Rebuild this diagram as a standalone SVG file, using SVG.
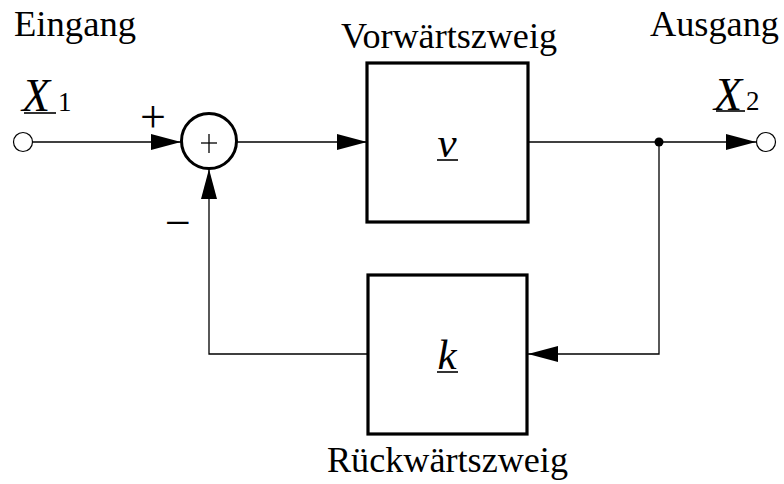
<svg xmlns="http://www.w3.org/2000/svg" width="784" height="484" viewBox="0 0 784 484">
<style>
.t{font-family:"Liberation Serif",serif;font-size:35px;fill:#000}
.p{font-family:"Liberation Serif",serif;font-size:46px;fill:#000}
.m{font-family:"Liberation Serif",serif;font-style:italic;font-size:43px;fill:#000}
.x{font-family:"Liberation Serif",serif;font-style:italic;font-size:46px;fill:#000}
.s{font-family:"Liberation Serif",serif;font-size:27px;fill:#000}
.w{fill:none;stroke:#000;stroke-width:1.3}
.box{fill:#fff;stroke:#000;stroke-width:3.2}
.u{stroke:#000;stroke-width:1.6}
</style>
<defs>
<marker id="ah" viewBox="0 0 30 16" refX="30" refY="8" markerWidth="30" markerHeight="16" markerUnits="userSpaceOnUse" orient="auto">
<path d="M0,0 L30,8 L0,16 Z" fill="#000"/>
</marker>
</defs>
<g id="connectors">
<line class="w" x1="33" y1="142" x2="181" y2="142" marker-end="url(#ah)"/>
<line class="w" x1="237" y1="142" x2="367" y2="142" marker-end="url(#ah)"/>
<line class="w" x1="528" y1="142" x2="756" y2="142" marker-end="url(#ah)"/>
<polyline class="w" points="659,142 659,354 528,354" marker-end="url(#ah)"/>
<polyline class="w" points="368,354 209,354 209,169" marker-end="url(#ah)"/>
<circle cx="659" cy="142" r="4.5" fill="#000"/>
</g>
<g id="input">
<circle cx="23" cy="142" r="9.5" fill="#fff" stroke="#000" stroke-width="1.2"/>
<text class="x" x="22" y="111">X</text>
<text class="s" x="58" y="111">1</text>
<line class="u" x1="24" y1="113" x2="56" y2="113"/>
<text class="t" x="14" y="36" textLength="122" lengthAdjust="spacingAndGlyphs">Eingang</text>
</g>
<g id="sum">
<circle cx="209" cy="141" r="27.5" fill="#fff" stroke="#000" stroke-width="3"/>
<line class="w" x1="201" y1="143" x2="217" y2="143"/>
<line class="w" x1="209" y1="134" x2="209" y2="153"/>
<text class="p" x="153" y="132" text-anchor="middle">+</text>
<text class="p" x="178" y="238" text-anchor="middle">−</text>
</g>
<g id="forward">
<rect class="box" x="367" y="63" width="161" height="159"/>
<text class="m" x="447" y="157" text-anchor="middle">v</text>
<line class="u" x1="437" y1="160" x2="458" y2="160"/>
<text class="t" x="341" y="48" textLength="216" lengthAdjust="spacingAndGlyphs">Vorwärtszweig</text>
</g>
<g id="backward">
<rect class="box" x="368" y="275" width="159" height="159"/>
<text class="m" x="447" y="369" text-anchor="middle">k</text>
<line class="u" x1="437" y1="372" x2="458" y2="372"/>
<text class="t" x="327" y="472" textLength="241" lengthAdjust="spacingAndGlyphs">Rückwärtszweig</text>
</g>
<g id="output">
<circle cx="766" cy="142" r="9.5" fill="#fff" stroke="#000" stroke-width="1.2"/>
<text class="x" x="714" y="110">X</text>
<text class="s" x="746" y="110">2</text>
<line class="u" x1="716" y1="111" x2="745" y2="111"/>
<text class="t" x="650" y="36" textLength="129" lengthAdjust="spacingAndGlyphs">Ausgang</text>
</g>
</svg>
